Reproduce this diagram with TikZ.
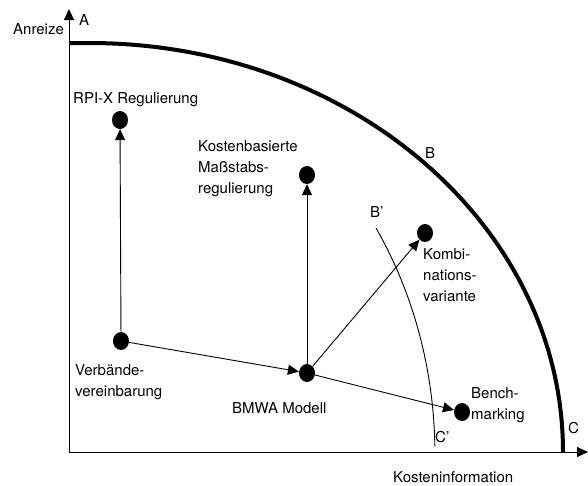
\documentclass[tikz,border=0pt]{standalone}
\usepackage{fontspec}
\setmainfont{TeX Gyre Heros}
\usetikzlibrary{shapes.geometric,arrows.meta,positioning}

\begin{document}
\begin{tikzpicture}[
    x=1pt,y=-1pt,
    punkt/.style={ellipse,fill,inner sep=0pt,minimum width=16pt,minimum height=18pt},
    txt/.style={font=\fontsize{15}{21}\selectfont,inner sep=0pt,align=left},
    pfeil/.style={-{Triangle[length=11pt,width=10pt]},line width=0.9pt}]
    \useasboundingbox (0,0) rectangle (588,485);

    % Achsen
    \coordinate (O) at (69,452);
    \coordinate (Ytop) at (69,9);
    \coordinate (Xtop) at (588,452);
    \draw[pfeil] (O) -- (Ytop);
    \draw[pfeil] (O) -- (Xtop);
    \node[txt,anchor=base west] (anreize) at (13,34) {Anreize};
    \node[txt,anchor=base west] (kinfo) at (393,482) {Kosteninformation};

    % Grenzen
    \coordinate (A) at (69,43);
    \draw[line width=4pt] (A) -- ++(20,0) arc[start angle=90,end angle=0,x radius=474pt,y radius=409pt];
    \coordinate (Bs) at (376,228);
    \draw[line width=0.9pt] (Bs) arc[start angle=33,end angle=1,x radius=365pt,y radius=414pt];
    \node[txt,anchor=base west] (lA) at (79,25) {A};
    \node[txt,anchor=base west] (lB) at (425,158) {B};
    \node[txt,anchor=base west] (lC) at (568,433) {C};
    \node[txt,anchor=base west] (lBs) at (370,217) {B'};
    \node[txt,anchor=base west] (lCs) at (435,442) {C'};

    % Modelle
    \node[punkt] (RPI) at (120,120) {};
    \node[punkt] (KMR) at (307,175) {};
    \node[punkt] (KOM) at (425,233) {};
    \node[punkt] (VV) at (121,341) {};
    \node[punkt] (BMWA) at (307,373) {};
    \node[punkt] (BM) at (462,412) {};

    \node[txt,anchor=base west] (tRPI) at (73,103) {RPI-X Regulierung};
    \node[txt,anchor=north west] (tKMR) at (198,140) {Kostenbasierte\\Maßstabs-\\regulierung};
    \node[txt,anchor=north west] (tKOM) at (423,248) {Kombi-\\nations-\\variante};
    \node[txt,anchor=north west] (tVV) at (75,364) {Verbände-\\vereinbarung};
    \node[txt,anchor=base west] (tBMWA) at (232,413) {BMWA Modell};
    \node[txt,anchor=north west] (tBM) at (471,387) {Bench-\\marking};

    \draw[pfeil] (VV) -- (RPI);
    \draw[pfeil] (VV) -- (BMWA);
    \draw[pfeil] (BMWA) -- (KMR);
    \draw[pfeil] (BMWA) -- (KOM);
    \draw[pfeil] (BMWA) -- (BM);
\end{tikzpicture}
\end{document}
